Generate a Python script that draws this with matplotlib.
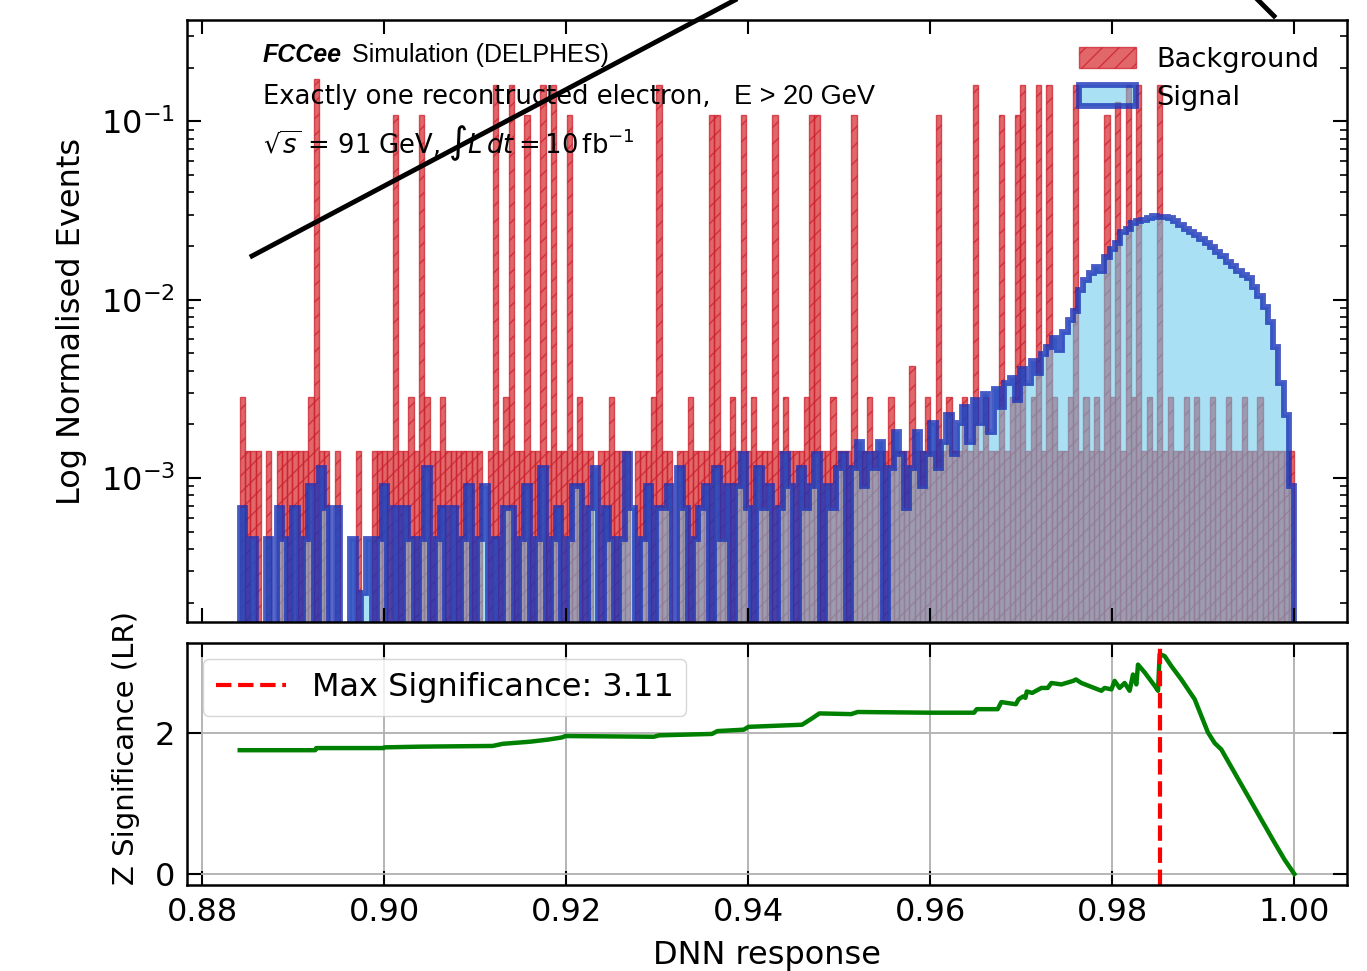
import numpy as np
import matplotlib
matplotlib.use("Agg")
import matplotlib.pyplot as plt
from matplotlib.lines import Line2D

# DNN output binning
n_bins = 200
dnn_min, dnn_max = 0.8841, 1.0

# normalised height of one entry
bkg_unit = 1.42e-3
sig_unit = 2.27e-4

# background entries per bin (weighted)
bkg_units = [
    2, 1, 1, 1, 0, 1, 0, 1, 1, 1, 1, 1, 1, 2, 122, 1, 1, 0, 1, 0,
    0, 0, 1, 0, 0, 1, 1, 1, 1, 76, 1, 1, 2, 1, 76, 2, 1, 1, 2, 1,
    1, 1, 1, 1, 1, 1, 0, 1, 112, 1, 2, 112, 1, 1, 76, 1, 1, 112, 1, 112,
    1, 1, 76, 1, 2, 1, 1, 0, 1, 1, 2, 1, 1, 1, 0, 1, 1, 1, 2, 112,
    1, 1, 0, 1, 1, 2, 1, 1, 1, 76, 76, 1, 1, 2, 1, 76, 1, 2, 1, 1,
    1, 76, 1, 2, 1, 1, 1, 2, 76, 76, 1, 1, 2, 1, 1, 1, 76, 1, 1, 2,
    1, 1, 1, 2, 1, 1, 1, 3, 1, 1, 2, 1, 76, 1, 2, 1, 1, 2, 1, 112,
    1, 2, 1, 1, 76, 1, 2, 76, 112, 1, 2, 112, 1, 112, 2, 1, 1, 2, 112, 1,
    2, 1, 2, 1, 76, 2, 90, 1, 112, 2, 112, 1, 2, 1, 112, 1, 2, 1, 1, 2,
    1, 2, 1, 1, 2, 1, 1, 2, 1, 1, 2, 1, 1, 2, 1, 1, 1, 1, 1, 1,
]

# signal entries per bin
sig_counts = [
    3, 0, 2, 0, 0, 2, 0, 3, 2, 0, 3, 0, 2, 4, 0, 5, 3, 0, 3, 0,
    0, 2, 0, 1, 2, 0, 2, 4, 0, 3, 0, 3, 2, 0, 2, 5, 0, 2, 3, 0,
    3, 0, 2, 4, 0, 2, 4, 0, 2, 0, 3, 3, 0, 2, 4, 0, 2, 5, 0, 2,
    3, 0, 2, 4, 4, 0, 3, 5, 0, 3, 2, 0, 2, 6, 3, 0, 2, 4, 0, 3,
    3, 4, 0, 5, 3, 0, 2, 3, 4, 0, 5, 2, 4, 0, 4, 6, 3, 0, 5, 3,
    4, 0, 3, 6, 4, 0, 5, 3, 4, 6, 0, 4, 3, 5, 6, 0, 5, 7, 4, 6,
    5, 7, 0, 5, 8, 6, 3, 5, 8, 4, 6, 9, 5, 7, 10, 6, 9, 11, 7, 12,
    9, 13, 8, 14, 11, 15, 16, 12, 18, 15, 20, 17, 22, 24, 27, 23, 29, 34, 38, 50,
    57, 62, 67, 64, 76, 85, 92, 105, 110, 118, 121, 124, 127, 130, 128, 128, 126, 122, 116, 110,
    106, 102, 97, 92, 87, 82, 77, 72, 68, 64, 61, 58, 52, 46, 40, 33, 24, 15, 10, 4,
]

# significance vs. DNN cut
sig_cut = [
    0.8841, 0.8924, 0.8925, 0.8999, 0.9000, 0.9040, 0.9119, 0.9130, 0.9160, 0.9180,
    0.9195, 0.9199, 0.9296, 0.9302, 0.9360, 0.9366, 0.9395, 0.9400, 0.9459, 0.9470,
    0.9478, 0.9513, 0.9520, 0.9600, 0.9648, 0.9651, 0.9674, 0.9678, 0.9694, 0.9697,
    0.9702, 0.97045, 0.9706, 0.9712, 0.9722, 0.9729, 0.9733, 0.9744, 0.9757, 0.9760,
    0.9766, 0.9788, 0.97915, 0.9799, 0.98025, 0.9808, 0.98135, 0.9819, 0.98227, 0.98264,
    0.98282, 0.98355, 0.98465, 0.98502, 0.9852, 0.98575, 0.98648, 0.98758, 0.98905, 0.99051,
    0.99125, 0.99198, 0.99344, 0.99491, 0.99637, 0.99784, 0.99894, 1.0000,
]
sig_z = [
    1.75, 1.75, 1.78, 1.78, 1.79, 1.80, 1.81, 1.84, 1.87, 1.90,
    1.93, 1.95, 1.94, 1.96, 1.98, 2.02, 2.04, 2.08, 2.11, 2.20,
    2.27, 2.26, 2.29, 2.28, 2.28, 2.33, 2.33, 2.43, 2.40, 2.47,
    2.51, 2.49, 2.58, 2.56, 2.63, 2.63, 2.70, 2.68, 2.73, 2.75,
    2.70, 2.59, 2.63, 2.61, 2.73, 2.63, 2.70, 2.59, 2.82, 2.68,
    2.96, 2.85, 2.66, 2.59, 3.11, 3.08, 2.94, 2.75, 2.47, 2.00,
    1.85, 1.76, 1.43, 1.10, 0.77, 0.44, 0.20, 0.00,
]

edges = np.linspace(dnn_min, dnn_max, n_bins + 1)
centers = 0.5 * (edges[1:] + edges[:-1])
bkg_w = np.array(bkg_units) * bkg_unit
sig_w = np.array(sig_counts) * sig_unit

plt.rcParams.update({"font.size": 23, "font.family": "DejaVu Sans"})

fig = plt.figure(figsize=(13.67, 9.71), dpi=100)
ax1 = fig.add_axes([0.1368, 0.3594, 0.8486, 0.62])
ax2 = fig.add_axes([0.1368, 0.0886, 0.8486, 0.2492], sharex=ax1)

ax1.set_yscale("log")
ax1.hist(
    centers,
    bins=edges,
    weights=bkg_w,
    histtype="bar",
    facecolor=(0.84, 0.15, 0.16, 0.7),
    edgecolor=(0.80, 0.12, 0.18, 0.75),
    linewidth=1.0,
    hatch="//",
    label="Background",
)
ax1.hist(
    centers,
    bins=edges,
    weights=sig_w,
    histtype="stepfilled",
    facecolor=(0.39, 0.78, 0.92, 0.55),
    edgecolor=(0.10, 0.20, 0.72, 0.8),
    linewidth=4.2,
    label="Signal",
)
ax1.set_ylim(1.56e-4, 0.37)
ax1.set_ylabel("Log Normalised Events", labelpad=10)
ax1.tick_params(which="both", direction="in", top=True, right=True, labelbottom=False)
ax1.tick_params(which="major", length=10, width=1.5, pad=8.5)
ax1.tick_params(which="minor", length=5, width=1.2)
ax1.legend(
    loc="upper right",
    frameon=False,
    fontsize=19.6,
    handlelength=2.1,
    handleheight=0.8,
    handletextpad=0.75,
    labelspacing=0.42,
    borderaxespad=0.6,
)

narrow = ["Liberation Sans Narrow", "Liberation Sans"]
ax1.text(0.0655, 0.942, "FCCee", transform=ax1.transAxes, va="center",
         fontsize=18, fontweight="bold", fontstyle="italic", family=narrow)
ax1.text(0.1422, 0.942, "Simulation (DELPHES)", transform=ax1.transAxes,
         va="center", fontsize=18, family=narrow)
ax1.text(0.0655, 0.872, "Exactly one recontructed electron,",
         transform=ax1.transAxes, va="center", fontsize=18.6)
ax1.text(0.4715, 0.872, "E > 20 GeV",
         transform=ax1.transAxes, va="center", fontsize=19.5, family=narrow)
ax1.text(0.0655, 0.796, r"$\sqrt{s}$ = 91 GeV, $\int L\,dt = 10\,\mathrm{fb}^{-1}$",
         transform=ax1.transAxes, va="center", fontsize=18.6)

# significance panel
best = int(np.argmax(sig_z))
ax2.plot(sig_cut, sig_z, color="green", linewidth=3.2)
ax2.axvline(sig_cut[best], color="red", linestyle="--", linewidth=3,
            label="Max Significance: {:.2f}".format(sig_z[best]))
ax2.set_yticks([0, 2])
ax2.set_xticks([0.88, 0.90, 0.92, 0.94, 0.96, 0.98, 1.00])
ax2.grid(True, color="#b0b0b0", linewidth=1.3)
ax2.set_xlabel("DNN response", labelpad=9)
ax2.set_ylabel("Z Significance (LR)", fontsize=21)
ax2.yaxis.set_label_coords(-0.0405, 0.566)
ax2.tick_params(which="both", direction="in", top=True, right=True)
ax2.tick_params(which="major", length=10, width=1.5, pad=8.5)
ax2.legend(loc="upper left", fontsize=23, handlelength=2.2)

for ax in (ax1, ax2):
    for s in ax.spines.values():
        s.set_linewidth(1.8)

# connector lines running off the top of the figure
fig.add_artist(Line2D([252 / 1367, 735 / 1367], [1 - 256 / 971, 1.0],
                      transform=fig.transFigure, color="black", linewidth=3.5))
fig.add_artist(Line2D([1258 / 1367, 1274 / 1367], [1.0, 1 - 16 / 971],
                      transform=fig.transFigure, color="black", linewidth=3.5))

fig.savefig("out.png", dpi=100)
